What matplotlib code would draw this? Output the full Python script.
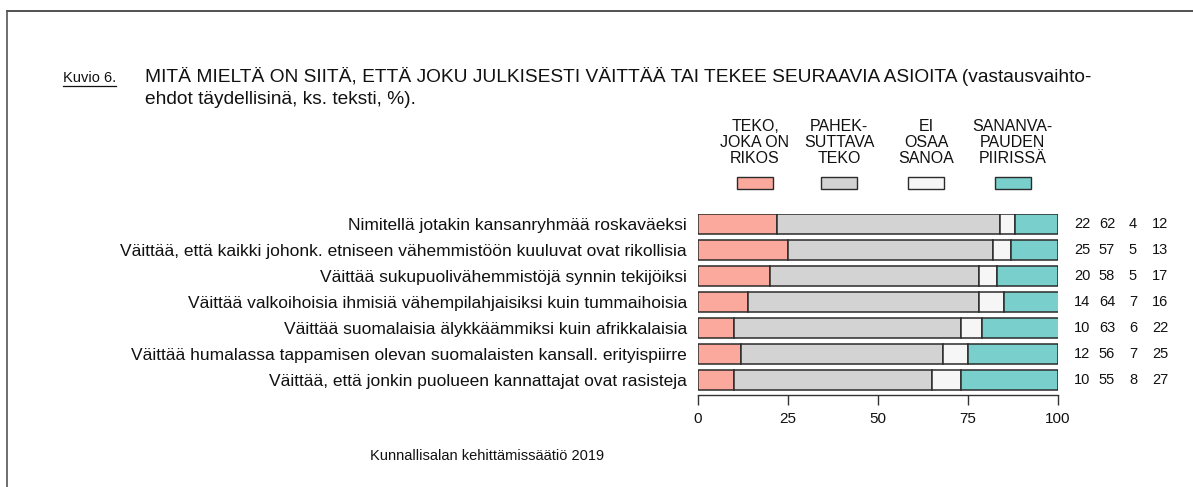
import matplotlib
matplotlib.use('Agg')
import matplotlib.pyplot as plt
from matplotlib.lines import Line2D
from matplotlib.patches import Rectangle
from matplotlib.transforms import blended_transform_factory

# data
statements = [
    'Nimitellä jotakin kansanryhmää roskaväeksi',
    'Väittää, että kaikki johonk. etniseen vähemmistöön kuuluvat ovat rikollisia',
    'Väittää sukupuolivähemmistöjä synnin tekijöiksi',
    'Väittää valkoihoisia ihmisiä vähempilahjaisiksi kuin tummaihoisia',
    'Väittää suomalaisia älykkäämmiksi kuin afrikkalaisia',
    'Väittää humalassa tappamisen olevan suomalaisten kansall. erityispiirre',
    'Väittää, että jonkin puolueen kannattajat ovat rasisteja',
]
crime = [22, 25, 20, 14, 10, 12, 10]
condemnable = [62, 57, 58, 64, 63, 56, 55]
dont_know = [4, 5, 5, 7, 6, 7, 8]
free_speech = [12, 13, 17, 16, 22, 25, 27]
categories = ['TEKO,\nJOKA ON\nRIKOS', 'PAHEK-\nSUTTAVA\nTEKO', 'EI\nOSAA\nSANOA',
              'SANANVA-\nPAUDEN\nPIIRISSÄ']
colors = ['#FBA99D', '#D3D3D3', '#F6F6F6', '#79CFCB']
ticks = [0, 25, 50, 75, 100]

W, H = 1193, 487
NARROW = ['Liberation Sans Narrow', 'Liberation Sans', 'DejaVu Sans']
REG = ['Liberation Sans', 'DejaVu Sans']
EDGE = '#2b2b2b'

fig = plt.figure(figsize=(W / 100, H / 100), dpi=100)


def fx(px):
    return px / W


def fy(py):
    return 1 - py / H


# frame lines (top and left) of the cropped page
fig.add_artist(Line2D([fx(7), 1], [fy(11), fy(11)], color='#333333', lw=1.2))
fig.add_artist(Line2D([fx(7), fx(7)], [fy(11), 0], color='#555555', lw=1.2))

# axes: 0..100 spans x 698..1058, bars rows 26 px apart
n = len(statements)
ytop, ybot = -0.4, n - 1 + 15 / 26
ax_h = (ybot - ytop) * 26
ax = fig.add_axes([fx(698), (H - 395) / H, fx(1058) - fx(698), ax_h / H])

series = [crime, condemnable, dont_know, free_speech]
rows = list(range(n))
left = [0] * n
for vals, col in zip(series, colors):
    ax.barh(rows, vals, left=left, height=0.77, color=col, edgecolor=EDGE, linewidth=1.1)
    left = [a + b for a, b in zip(left, vals)]

ax.set_xlim(0, 100)
ax.set_ylim(ybot, ytop)
ax.set_yticks(rows)
ax.set_yticklabels(statements, fontsize=12.5, family=REG, color='#111111')
ax.tick_params(axis='y', length=0, pad=8)
ax.set_xticks(ticks)
ax.set_xticklabels([str(t) for t in ticks], fontsize=11, family=NARROW, color='#111111')
ax.tick_params(axis='x', length=7, width=1, color='#333333', pad=5)
for s in ['top', 'right', 'left']:
    ax.spines[s].set_visible(False)
ax.spines['bottom'].set_color('#333333')
ax.spines['bottom'].set_linewidth(1)

# value columns on the right
trans = blended_transform_factory(fig.transFigure, ax.transData)
col_x = [1082, 1107, 1133, 1160]
for i in rows:
    for cx, vals in zip(col_x, series):
        ax.text(fx(cx), i, str(vals[i]), transform=trans, ha='center', va='center',
                fontsize=10.5, family=REG, color='#111111')

# legend
leg_x = [755, 839, 926, 1012.5]
for cx, lab, col in zip(leg_x, categories, colors):
    fig.text(fx(cx), fy(163), lab, ha='center', va='baseline', fontsize=11.5,
             family=NARROW, linespacing=1.08, color='#111111')
    fig.add_artist(Rectangle((fx(cx - 18), fy(189)), fx(36), 12 / H,
                             facecolor=col, edgecolor=EDGE, lw=1))

# title
kt = fig.text(fx(63), fy(82), 'Kuvio 6.', fontsize=10.5, family=REG, va='baseline', color='#111111')
fig.text(fx(145), fy(82),
         'MITÄ MIELTÄ ON SIITÄ, ETTÄ JOKU JULKISESTI VÄITTÄÄ TAI TEKEE SEURAAVIA ASIOITA (vastausvaihto-',
         fontsize=13.8, family=REG, va='baseline', color='#111111')
fig.text(fx(145), fy(104), 'ehdot täydellisinä, ks. teksti, %).',
         fontsize=13.8, family=REG, va='baseline', color='#111111')
r = fig.canvas.get_renderer()
bb = kt.get_window_extent(r)
fig.add_artist(Line2D([bb.x0 / W, bb.x1 / W], [fy(86), fy(86)], color='#111111', lw=0.9))

# source
fig.text(fx(487), fy(456), 'Kunnallisalan kehittämissäätiö 2019', ha='center', va='center',
         fontsize=10.5, family=NARROW, color='#111111')

fig.savefig('out.png', dpi=100)
